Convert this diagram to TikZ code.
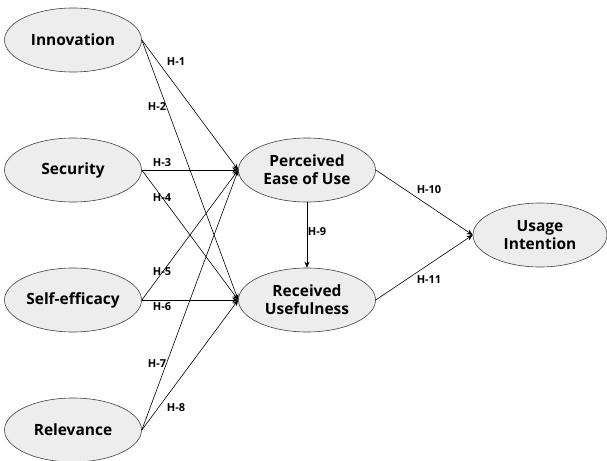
\documentclass[tikz,border=0pt]{standalone}
\usepackage{fontspec}
\setmainfont{Open Sans}
\usetikzlibrary{shapes.geometric,arrows.meta}

\begin{document}
\begin{tikzpicture}[x=1pt,y=-1pt,-{Stealth[length=6pt,width=5pt]}]
    \tikzstyle{construct}=[ellipse,draw=black!75,fill=black!7,line width=0.6pt,minimum width=137pt,minimum height=64pt,inner sep=0pt,align=center,font=\fontsize{15.5}{18}\selectfont\bfseries]
    \tikzstyle{hyp}=[inner sep=0pt,font=\fontsize{11}{13}\selectfont\bfseries]
    \useasboundingbox (0,0) rectangle (607,460);

    \foreach \name/\y/\txt in {inno/40/Innovation, secu/170/Security, self/300/Self-efficacy, rele/430/Relevance}
            \node[construct] (C-\name) at (73,\y) {\txt};

    \node[construct] (C-peou) at (307,170) {Perceived\\Ease of Use};
    \node[construct] (C-ru) at (307,300) {Received\\Usefulness};
    \node[construct,minimum width=134pt] (C-ui) at (540,235) {Usage\\Intention};

    % hypothesis paths
        \foreach \from/\to in {inno/peou, inno/ru, secu/peou, secu/ru, self/peou, self/ru, rele/peou, rele/ru}
            \draw[line width=0.6pt] (C-\from.east) -- (C-\to.west);

        \draw[line width=0.6pt] (C-peou.south) -- (C-ru.north);
        \draw[line width=0.6pt] (C-peou.east) -- (C-ui.west);
        \draw[line width=0.6pt] (C-ru.east) -- (C-ui.west);

    % labels
        \foreach \num/\x/\y in {1/176/62, 2/157/107, 3/162/163, 4/162/198, 5/162/272, 6/162/307, 7/157/364, 8/176/408, 9/317/232, 10/429/190, 11/429/280}
            \node[hyp] (H-\num) at (\x,\y) {H-\num};
\end{tikzpicture}
\end{document}
